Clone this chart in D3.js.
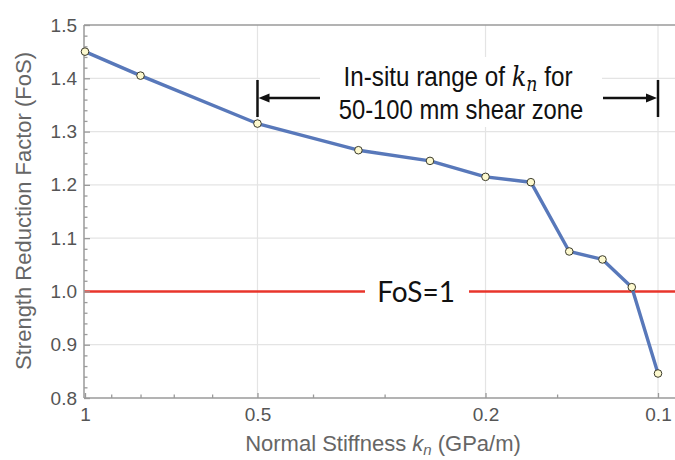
<!DOCTYPE html>
<html>
<head>
<meta charset="utf-8">
<script src="https://cdn.jsdelivr.net/npm/d3@7"></script>
<style>
  body { margin: 0; background: #fff; }
  svg { display: block; }
</style>
</head>
<body>
<div id="chart"></div>
<script>
// Strength reduction factor vs normal stiffness (log axis, reversed)

// data
var kn  = [1, 0.8, 0.5, 1/3, 0.25, 0.2, 1/6, 1/7, 1/8, 1/9, 0.1];
var fos = [1.45, 1.405, 1.315, 1.265, 1.245, 1.215, 1.205, 1.075, 1.06, 1.008, 0.846];

var xMajor = [1, 0.5, 0.2, 0.1];
var xMinor = [0.9, 0.8, 0.7, 0.6, 0.4, 0.3, 0.15];
var yMajor = [0.8, 0.9, 1.0, 1.1, 1.2, 1.3, 1.4, 1.5];
var yMinor = d3.range(0.8, 1.5, 0.02).filter(function (d) {
  return Math.abs(d * 10 - Math.round(d * 10)) > 0.01;
});
var xGrid = [0.5, 0.2, 0.1];
var yGrid = [0.9, 1.1, 1.2, 1.3, 1.4];

var inSitu = [0.5, 0.1];
var fosLimit = 1;

var width = 675, height = 460;
var pLeft = 84, pRight = 675, pTop = 25, pBottom = 398;

var svg = d3.select("#chart").append("svg")
    .attr("width", width)
    .attr("height", height);

var x = d3.scaleLog().domain([1, 0.1]).range([85, 658]);
var y = d3.scaleLinear().domain([0.8, 1.5]).range([pBottom, pTop]);

var data = kn.map(function (k, i) { return { k: k, f: fos[i] }; });

// grid
var grid = svg.append("g").attr("stroke", "#e4e4e4").attr("stroke-width", 1.2);
grid.selectAll(".gy").data(yGrid).enter().append("line")
    .attr("x1", pLeft).attr("x2", pRight)
    .attr("y1", function (d) { return y(d); })
    .attr("y2", function (d) { return y(d); });
grid.selectAll(".gx").data(xGrid).enter().append("line")
    .attr("y1", pTop).attr("y2", pBottom)
    .attr("x1", function (d) { return x(d); })
    .attr("x2", function (d) { return x(d); });

// FoS = 1 reference line
svg.append("line")
    .attr("x1", pLeft).attr("x2", pRight)
    .attr("y1", y(fosLimit)).attr("y2", y(fosLimit))
    .attr("stroke", "#e8352b")
    .attr("stroke-width", 2.5);

svg.append("rect")
    .attr("x", 365).attr("y", y(fosLimit) - 15)
    .attr("width", 104).attr("height", 30)
    .attr("fill", "#fff");

svg.append("text")
    .attr("x", 416).attr("y", y(fosLimit) + 11)
    .attr("text-anchor", "middle")
    .style("font-family", "Lato, 'Open Sans', sans-serif")
    .style("font-size", "28px")
    .attr("fill", "#111")
    .text("FoS=1");

// white box behind the annotation
svg.append("rect")
    .attr("x", 320).attr("y", 57)
    .attr("width", 282).attr("height", 70)
    .attr("fill", "#fff");

// axes
function styleAxis(g) {
  g.select(".domain").remove();
  g.selectAll(".tick line").attr("stroke", "#9a9a9a").attr("stroke-width", 1.3);
  g.selectAll(".tick text")
    .attr("fill", "#555")
    .style("font-family", "'Liberation Sans', Arial, sans-serif")
    .style("font-size", "19px");
}

svg.append("g")
    .attr("transform", "translate(0," + pBottom + ")")
    .call(d3.axisBottom(x).tickValues(xMajor).tickSize(-5).tickPadding(10)
      .tickFormat(function (d) { return String(d); }))
    .call(styleAxis);

svg.append("g")
    .attr("transform", "translate(0," + pBottom + ")")
    .call(d3.axisBottom(x).tickValues(xMinor).tickSize(-3.5).tickFormat(""))
    .call(styleAxis);

svg.append("g")
    .attr("transform", "translate(" + pLeft + ",0)")
    .call(d3.axisLeft(y).tickValues(yMajor).tickSize(-6).tickPadding(7)
      .tickFormat(d3.format(".1f")))
    .call(styleAxis);

svg.append("g")
    .attr("transform", "translate(" + pLeft + ",0)")
    .call(d3.axisLeft(y).tickValues(yMinor).tickSize(-3.5).tickFormat(""))
    .call(styleAxis);

// frame lines: left, bottom, top
var frame = svg.append("g").attr("stroke", "#9a9a9a").attr("stroke-width", 1.5);
frame.append("line").attr("x1", pLeft).attr("x2", pLeft).attr("y1", pTop).attr("y2", pBottom);
frame.append("line").attr("x1", pLeft).attr("x2", pRight).attr("y1", pBottom).attr("y2", pBottom);
frame.append("line").attr("x1", pLeft).attr("x2", pRight).attr("y1", pTop).attr("y2", pTop);

// axis titles
var xTitle = svg.append("text")
    .attr("x", 383).attr("y", 451)
    .attr("text-anchor", "middle")
    .attr("fill", "#666")
    .style("font-family", "'Liberation Sans', Arial, sans-serif")
    .style("font-size", "22px");
xTitle.append("tspan").text("Normal Stiffness ");
xTitle.append("tspan").style("font-style", "italic").text("k");
xTitle.append("tspan").style("font-style", "italic").style("font-size", "15px")
    .attr("dy", 4).text("n");
xTitle.append("tspan").attr("dy", -4).text(" (GPa/m)");

svg.append("text")
    .attr("transform", "translate(31,211) rotate(-90)")
    .attr("text-anchor", "middle")
    .attr("fill", "#666")
    .style("font-family", "'Liberation Sans', Arial, sans-serif")
    .style("font-size", "22px")
    .text("Strength Reduction Factor (FoS)");

// data line + points
svg.append("path")
    .datum(data)
    .attr("fill", "none")
    .attr("stroke", "#5878ba")
    .attr("stroke-width", 3.4)
    .attr("stroke-linejoin", "round")
    .attr("d", d3.line()
      .x(function (d) { return x(d.k); })
      .y(function (d) { return y(d.f); }));

svg.selectAll(".pt").data(data).enter().append("circle")
    .attr("cx", function (d) { return x(d.k); })
    .attr("cy", function (d) { return y(d.f); })
    .attr("r", 3.8)
    .attr("fill", "#fdf9cf")
    .attr("stroke", "#3a3a2a")
    .attr("stroke-width", 1);

// in-situ range annotation (sans squeezed horizontally to look narrow)
var ann = svg.append("g")
    .style("font-family", "'Liberation Sans', Arial, sans-serif")
    .style("font-size", "28px")
    .attr("fill", "#111")
    .attr("text-anchor", "middle");

var line1 = ann.append("text")
    .attr("transform", "translate(458,86) scale(0.865,1)");
line1.append("tspan").text("In-situ range of ");
line1.append("tspan")
    .style("font-family", "'DejaVu Serif', 'Liberation Serif', serif")
    .style("font-style", "italic")
    .text("k");
line1.append("tspan")
    .style("font-family", "'DejaVu Serif', 'Liberation Serif', serif")
    .style("font-style", "italic")
    .style("font-size", "20px")
    .attr("dy", 5).text("n");
line1.append("tspan").attr("dy", -5).text(" for");

ann.append("text")
    .attr("transform", "translate(461,119) scale(0.85,1)")
    .text("50-100 mm shear zone");

var xa = x(inSitu[0]), xb = x(inSitu[1]), ya = 98;
var arrows = svg.append("g").attr("stroke", "#111").attr("stroke-width", 2.5);
arrows.append("line").attr("x1", xa).attr("x2", xa).attr("y1", 80).attr("y2", 117);
arrows.append("line").attr("x1", xb).attr("x2", xb).attr("y1", 80).attr("y2", 117);
arrows.append("line").attr("x1", xa + 8).attr("x2", 320).attr("y1", ya).attr("y2", ya);
arrows.append("line").attr("x1", 603).attr("x2", xb - 8).attr("y1", ya).attr("y2", ya);

svg.append("path")
    .attr("d", "M" + (xa + 1) + "," + ya + "L" + (xa + 12) + "," + (ya - 4.5) +
               "L" + (xa + 12) + "," + (ya + 4.5) + "Z")
    .attr("fill", "#111");
svg.append("path")
    .attr("d", "M" + (xb - 1) + "," + ya + "L" + (xb - 12) + "," + (ya - 4.5) +
               "L" + (xb - 12) + "," + (ya + 4.5) + "Z")
    .attr("fill", "#111");
</script>
</body>
</html>
